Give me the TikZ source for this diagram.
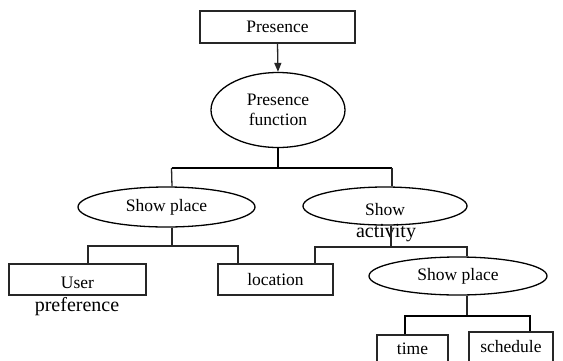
\documentclass[tikz,border=0pt]{standalone}
\usepackage{fontspec}
\setmainfont{Liberation Serif}
\usetikzlibrary{shapes.geometric,arrows.meta}
\tikzset{
  boxnode/.style={draw=black!85,line width=1.3pt,rectangle,inner sep=0pt,font=\fontsize{17.5}{19}\selectfont},
  ellnode/.style={draw=black,line width=1.3pt,ellipse,inner sep=0pt,font=\fontsize{17.5}{19}\selectfont},
  bigtext/.style={inner sep=0pt,font=\fontsize{20}{22}\selectfont},
  thin line/.style={draw=black!85,line width=1.3pt},
  thick line/.style={draw=black,line width=2.5pt},
}
\begin{document}
\begin{tikzpicture}[x=1pt,y=-1pt]
\useasboundingbox (0,0) rectangle (563,360);
\clip (0,0) rectangle (563,360);
\fill[white] (0,0) rectangle (563,360);

% nodes
\node[boxnode,minimum width=155pt,minimum height=32pt] (pres) at (277.5,27) {Presence};
\node[ellnode,minimum width=134pt,minimum height=75pt,align=center,font=\fontsize{17.5}{20}\selectfont] (pf) at (278,110) {Presence\\function};
\node[ellnode,minimum width=177pt,minimum height=40pt] (sp1) at (166.5,207) {Show place};
\node[ellnode,minimum width=164pt,minimum height=38pt] (sa) at (385,206) {};
\node[inner sep=0pt,font=\fontsize{17.5}{19}\selectfont] (show) at (385,210) {Show};
\node[bigtext] (act) at (386,233) {activity};
\node[boxnode,minimum width=137pt,minimum height=31pt] (user) at (77.5,279.5) {};
\node[inner sep=0pt,font=\fontsize{17.5}{19}\selectfont] (usert) at (77.5,283) {User};
\node[bigtext] (pref) at (77,307) {preference};
\node[boxnode,minimum width=115pt,minimum height=31pt] (loc) at (275.5,279.5) {location};
\node[ellnode,minimum width=178pt,minimum height=38pt] (sp2) at (458,276) {Show place};
\node[boxnode,minimum width=71pt,minimum height=34pt] (time) at (412.5,352) {};
\node[inner sep=0pt,font=\fontsize{17.5}{19}\selectfont] (timet) at (412.5,349) {time};
\node[boxnode,minimum width=84pt,minimum height=34pt] (sched) at (511,349) {};
\node[inner sep=0pt,font=\fontsize{17.5}{19}\selectfont] (schedt) at (511,347) {schedule};

% junction coordinates
\coordinate (j1) at (278,168);
\coordinate (j2) at (172,246);
\coordinate (j3) at (391,247);
\coordinate (j4) at (467,316);

% connectors
\draw[thin line,-{Triangle[length=9pt,width=7pt]}] (pres.south) -- (pf.north);
\draw[thick line] (pf.south) -- (j1);
\draw[thick line] ([xshift=5pt]sp1.north |- j1) -- ([xshift=7pt]sa.north |- j1);
\draw[thin line] ([xshift=5pt]sp1.north |- j1) -- ([xshift=5.5pt]sp1.north);
\draw[thin line] ([xshift=7pt]sa.north |- j1) -- ([xshift=7pt]sa.north);

\draw[thin line] ([xshift=5.5pt]sp1.south) -- (j2);
\draw[thin line] (user.north -| 88,0) |- (j2) -| (loc.north -| 238,0);

\draw[thin line] ([xshift=6pt]sa.south) -- (j3);
\draw[thin line] (loc.north -| 315,0) |- (j3) -| ([xshift=9pt]sp2.north);

\draw[thin line] ([xshift=9pt]sp2.south) -- (j4);
\draw[thick line] (time.north -| 405,0) |- (j4) -| (sched.north -| 530,0);
\end{tikzpicture}
\end{document}
